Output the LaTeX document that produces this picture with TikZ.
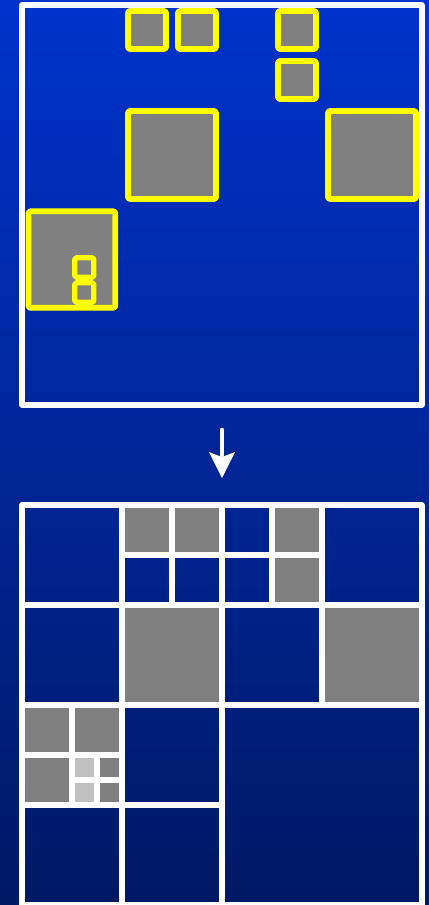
\documentclass[tikz,border=0pt]{standalone}
\definecolor{bgtop}{RGB}{0,51,204}
\definecolor{bgbot}{RGB}{0,25,100}
\definecolor{cellgray}{RGB}{128,128,128}
\definecolor{lightcell}{RGB}{192,192,192}
\definecolor{hiyellow}{RGB}{255,255,0}
\begin{document}
\begin{tikzpicture}[x=1pt,y=-1pt,
  frame/.style={draw=white,line width=6pt,line join=round},
  gridline/.style={draw=white,line width=6pt,line cap=rect},
  hit/.style={draw=hiyellow,fill=cellgray,line width=5.7pt,line join=round,rounded corners=1.5pt},
  hitsmall/.style={hit,line width=5.3pt},
  fullcell/.style={fill=cellgray},
  halfcell/.style={fill=lightcell},
  arrowshaft/.style={draw=white,line width=4.7pt,line cap=round},
  arrowhead/.style={fill=white}]
\useasboundingbox (0,0) rectangle (429,905);
\shade[top color=bgtop,bottom color=bgbot] (0,0) rectangle (429,905);

% ---------- top panel: objects ----------
\draw[frame] (22,5) rectangle (421.5,404.5);
\draw[hit] (128,11) rectangle (166,49);
\draw[hit] (178,11) rectangle (216,49);
\draw[hit] (278,11) rectangle (316,49);
\draw[hit] (278,61) rectangle (316,99);
\draw[hit] (128,111) rectangle (216,199);
\draw[hit] (328,111) rectangle (416,199);
\draw[hit] (28.5,211.3) rectangle (115.3,307.8);
\draw[hitsmall] (74.8,257.8) rectangle (93.8,277.2);
\draw[hitsmall] (74.8,282.8) rectangle (93.8,302.2);

% ---------- arrow ----------
\coordinate (arrowstart) at (222,430);
\coordinate (arrowbase) at (222,455);
\coordinate (arrowtip) at (222,478);
\draw[arrowshaft] (arrowstart) -- (arrowbase);
\fill[arrowhead] (209,452) -- (arrowtip) -- (235,452) -- (222,457) -- cycle;

% ---------- bottom panel: quadtree ----------
\fill[fullcell] (122,505) rectangle (172,555);
\fill[fullcell] (172,505) rectangle (222,555);
\fill[fullcell] (272,505) rectangle (322,555);
\fill[fullcell] (272,555) rectangle (322,605);
\fill[fullcell] (122,605) rectangle (222,705);
\fill[fullcell] (322,605) rectangle (421.5,705);
\fill[fullcell] (22,705) rectangle (72,755);
\fill[fullcell] (72,705) rectangle (122,755);
\fill[fullcell] (22,755) rectangle (72,805);
\fill[fullcell] (97,755) rectangle (122,780);
\fill[fullcell] (97,780) rectangle (122,805);
\fill[halfcell] (72,755) rectangle (97,780);
\fill[halfcell] (72,780) rectangle (97,805);

\draw[gridline] (122,505) -- (122,905);
\draw[gridline] (222,505) -- (222,905);
\draw[gridline] (322,505) -- (322,705);
\draw[gridline] (22,605) -- (421.5,605);
\draw[gridline] (22,705) -- (421.5,705);
\draw[gridline] (172,505) -- (172,605);
\draw[gridline] (272,505) -- (272,605);
\draw[gridline] (122,555) -- (322,555);
\draw[gridline] (72,705) -- (72,805);
\draw[gridline] (22,755) -- (122,755);
\draw[gridline] (22,805) -- (222,805);
\draw[gridline] (97,755) -- (97,805);
\draw[gridline] (72,780) -- (122,780);
\draw[frame] (22,505) rectangle (421.5,905);
\end{tikzpicture}
\end{document}
